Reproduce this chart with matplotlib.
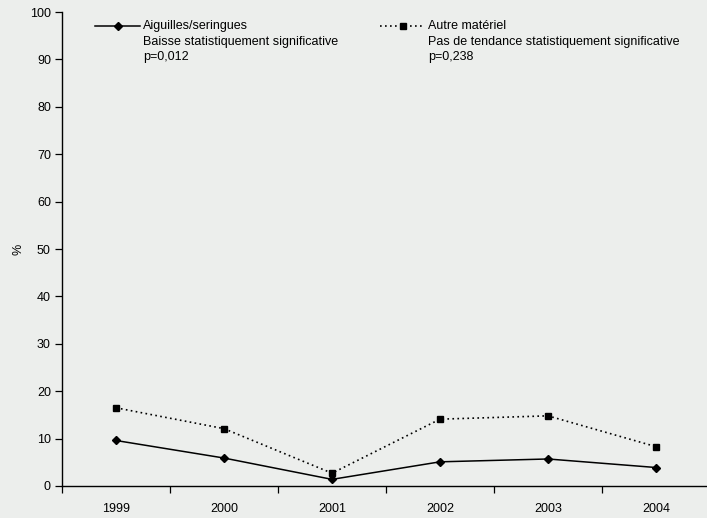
import matplotlib
matplotlib.use("Agg")
import matplotlib.pyplot as plt
from matplotlib.lines import Line2D

years = ["1999", "2000", "2001", "2002", "2003", "2004"]
aiguilles = [9.6, 5.9, 1.4, 5.1, 5.7, 3.9]
autre = [16.5, 12.1, 2.7, 14.1, 14.8, 8.3]
label_a = ["Aiguilles/seringues", "Baisse statistiquement significative", "p=0,012"]
label_b = ["Autre matériel", "Pas de tendance statistiquement significative", "p=0,238"]
yticks = list(range(0, 101, 10))

plt.rcParams['font.family'] = ['Liberation Sans', 'DejaVu Sans']
bg = "#eceeec"
fig = plt.figure(figsize=(7.07, 5.18), dpi=100, facecolor=bg)
ax = fig.add_axes([62/707, 32/518, 648/707, 474/518])
ax.set_facecolor(bg)

x = list(range(len(years)))
ax.plot(x, aiguilles, color="black", lw=1.1, marker="D", ms=4.5, mfc="black", mec="black")
ax.plot(x, autre, color="black", lw=1.2, ls=(0, (1, 2)), marker="s", ms=5, mfc="black", mec="black")

ax.set_xlim(-0.5, len(years) - 0.5)
ax.set_ylim(0, 100)
ax.set_yticks(yticks)
ax.set_yticklabels([str(v) for v in yticks], fontsize=9)
ax.set_xticks(x)
ax.set_xticklabels(years, fontsize=9)
ax.set_xticks([i - 0.5 for i in range(len(years) + 1)], minor=True)
ax.tick_params(axis='x', which='major', length=0, pad=12)
ax.tick_params(axis='x', which='minor', length=5, direction='out', width=0.9)
ax.tick_params(axis='y', length=5, direction='out', width=0.9, pad=3)
ax.set_ylabel("%", fontsize=9)
ax.yaxis.set_label_coords(-37/648, 0.5)
for s in ["top", "right"]:
    ax.spines[s].set_visible(False)
for s in ["left", "bottom"]:
    ax.spines[s].set_linewidth(1.0)

def px(xp, yp):
    return (xp / 707, 1 - yp / 518)

# legend entry 1
x0, x1 = px(95, 26)[0], px(140, 26)[0]
yy = px(0, 26)[1]
fig.add_artist(Line2D([x0, x1], [yy, yy], color="black", lw=1.1, transform=fig.transFigure))
fig.add_artist(Line2D([px(118, 0)[0]], [yy], color="black", marker="D", ms=4.5, transform=fig.transFigure))
for i, t in enumerate(label_a):
    fig.text(px(143, 0)[0], px(0, 26 + i * 15.5)[1], t, fontsize=9, va="center", ha="left")

# legend entry 2
x0, x1 = px(380, 26)[0], px(425, 26)[0]
fig.add_artist(Line2D([x0, x1], [yy, yy], color="black", lw=1.2, ls=(0, (1, 2)), transform=fig.transFigure))
fig.add_artist(Line2D([px(403, 0)[0]], [yy], color="black", marker="s", ms=5, transform=fig.transFigure))
for i, t in enumerate(label_b):
    fig.text(px(428, 0)[0], px(0, 26 + i * 15.5)[1], t, fontsize=9, va="center", ha="left")

fig.savefig("out.png", dpi=100, facecolor=bg)
